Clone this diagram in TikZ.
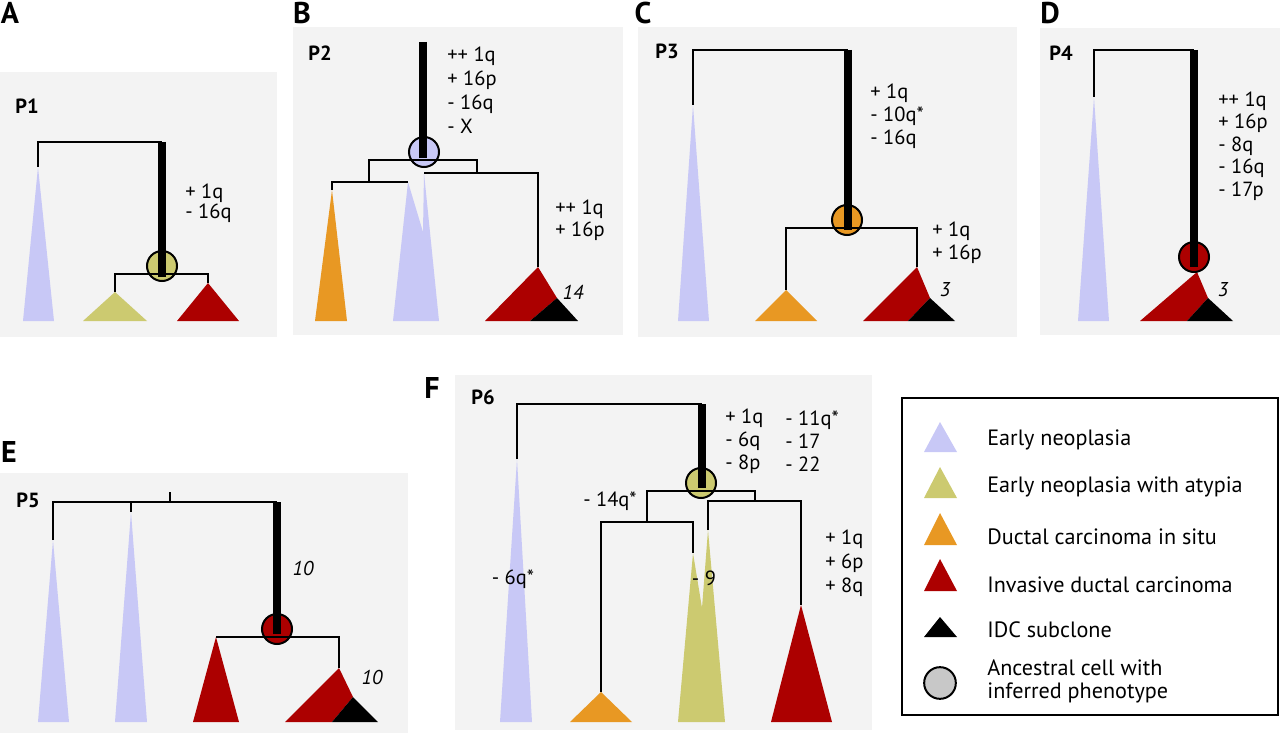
\documentclass[tikz,border=0pt]{standalone}
\usepackage{fontspec}
\setmainfont{PT Sans}
\definecolor{earlyneo}{RGB}{200,200,246}
\definecolor{atypia}{RGB}{204,202,112}
\definecolor{dcis}{RGB}{232,152,35}
\definecolor{idc}{RGB}{172,0,0}
\definecolor{panelbg}{RGB}{243,243,243}
\definecolor{ancgray}{RGB}{200,200,200}

\begin{document}
\begin{tikzpicture}[x=0.6pt, y=-0.6pt,
    branch/.style={line width=1.5pt},
    trunk/.style={line width=4.4pt},
    anc/.style={circle, draw, line width=1.2pt, minimum size=18pt, inner sep=0pt},
    cnv/.style={anchor=west, align=left, inner sep=0pt, font=\fontsize{12.3}{13.8}\selectfont},
    count/.style={inner sep=0pt, font=\itshape\fontsize{12}{13}\selectfont},
    ptag/.style={inner sep=0pt, font=\bfseries\fontsize{12.3}{14}\selectfont},
    letter/.style={inner sep=0pt, font=\bfseries\fontsize{18}{20}\selectfont},
    keytext/.style={anchor=base west, inner sep=0pt, font=\fontsize{13.3}{15}\selectfont}]
    \useasboundingbox (0,0) rectangle (1280,737);

    % Panel letters
    \node[letter] (lA) at (10,13) {A};
    \node[letter] (lB) at (302,13) {B};
    \node[letter] (lC) at (643,13) {C};
    \node[letter] (lD) at (1050,13) {D};
    \node[letter] (lE) at (9,452) {E};
    \node[letter] (lF) at (432,388) {F};

    % Panel A: P1
    \begin{scope}
        \fill[panelbg] (0,72) rectangle (277,337);
        \node[ptag] (pA) at (27,106) {P1};
        \coordinate (A-top) at (162,142);
        \coordinate (A-neo) at (38,167);
        \coordinate (A-split) at (162,274);
        \coordinate (A-aty) at (115,292);
        \coordinate (A-idc) at (208,283);
        \fill[earlyneo] (23,321) -- (A-neo) -- (54,321) -- cycle;
        \fill[atypia] (83,321) -- (A-aty) -- (147,321) -- cycle;
        \fill[idc] (177,321) -- (A-idc) -- (239,321) -- cycle;
        \node[anc, fill=atypia] (A-anc) at (162,266) {};
        \draw[branch] (A-neo) |- (A-top);
        \draw[branch] (A-aty) |- (A-split) -| (A-idc);
        \draw[trunk] (A-top) -- (162,277);
        \node[cnv, font=\fontsize{12.3}{11.8}\selectfont] (A-cnv) at (185,203) {+ 1q\\- 16q};
    \end{scope}

    % Panel B: P2
    \begin{scope}
        \fill[panelbg] (293,27) rectangle (623,335);
        \node[ptag] (pB) at (320,53) {P2};
        \coordinate (B-top) at (423,42);
        \coordinate (B-split) at (423,160);
        \coordinate (B-l) at (369,182);
        \coordinate (B-r) at (477,173);
        \coordinate (B-dcis) at (332,190);
        \coordinate (B-neo1) at (408,182);
        \coordinate (B-neo2) at (424,173);
        \coordinate (B-idc) at (538,267);
        \fill[dcis] (315,321) -- (B-dcis) -- (347,321) -- cycle;
        \fill[earlyneo] (393,321) -- (B-neo1) -- (423,232) -- (B-neo2) -- (439,321) -- cycle;
        \fill[idc] (485,321) -- (B-idc) -- (557,298) -- (530,321) -- cycle;
        \fill[black] (530,321) -- (557,298) -- (578,321) -- cycle;
        \node[anc, fill=earlyneo] (B-anc) at (424,152) {};
        \draw[branch] (B-dcis) |- (B-l) -- (B-neo1);
        \draw[branch] (B-l) |- (B-split) -| (B-r);
        \draw[branch] (B-neo2) -- (B-idc |- B-r) -- (B-idc);
        \draw[trunk] (B-top) -- (423,158);
        \node[cnv, font=\fontsize{12.3}{14.4}\selectfont] (B-cnv) at (447,90) {++ 1q\\+ 16p\\- 16q\\- X};
        \node[cnv, font=\fontsize{12.3}{13.2}\selectfont] (B-cnv2) at (555,220) {++ 1q\\+ 16p};
        \node[count] (B-n) at (573,292) {14};
    \end{scope}

    % Panel C: P3
    \begin{scope}
        \fill[panelbg] (638,27) rectangle (1017,337);
        \node[ptag] (pC) at (667,51) {P3};
        \coordinate (C-top) at (848,50);
        \coordinate (C-neo) at (693,105);
        \coordinate (C-split) at (848,228);
        \coordinate (C-dcis) at (786,290);
        \coordinate (C-idc) at (917,267);
        \fill[earlyneo] (678,321) -- (C-neo) -- (709,321) -- cycle;
        \fill[dcis] (755,321) -- (C-dcis) -- (817,321) -- cycle;
        \fill[idc] (863,321) -- (C-idc) -- (930,298) -- (908,321) -- cycle;
        \fill[black] (908,321) -- (930,298) -- (955,321) -- cycle;
        \node[anc, fill=dcis] (C-anc) at (847,220) {};
        \draw[branch] (C-neo) |- (C-top);
        \draw[branch] (C-dcis) |- (C-split) -| (C-idc);
        \draw[trunk] (C-top) -- (848,230);
        \node[cnv] (C-cnv) at (870,116) {+ 1q\\- 10q*\\- 16q};
        \node[cnv] (C-cnv2) at (932,243) {+ 1q\\+ 16p};
        \node[count] (C-n) at (945,290) {3};
    \end{scope}

    % Panel D: P4
    \begin{scope}
        \fill[panelbg] (1040,28) rectangle (1280,335);
        \node[ptag] (pD) at (1061,53) {P4};
        \coordinate (D-top) at (1194,50);
        \coordinate (D-neo) at (1094,97);
        \coordinate (D-idc) at (1197,272);
        \fill[earlyneo] (1078,321) -- (D-neo) -- (1109,321) -- cycle;
        \fill[idc] (1140,321) -- (D-idc) -- (1208,298) -- (1187,321) -- cycle;
        \fill[black] (1187,321) -- (1208,298) -- (1233,321) -- cycle;
        \node[anc, fill=idc] (D-anc) at (1194,257) {};
        \draw[branch] (D-neo) |- (D-top);
        \draw[trunk] (D-top) -- (1194,267);
        \node[cnv, font=\fontsize{12.3}{13.5}\selectfont] (D-cnv) at (1218,146) {++ 1q\\+ 16p\\- 8q\\- 16q\\- 17p};
        \node[count] (D-n) at (1223,290) {3};
    \end{scope}

    % Panel E: P5
    \begin{scope}
        \fill[panelbg] (0,473) rectangle (408,733);
        \node[ptag] (pE) at (28,500) {P5};
        \coordinate (E-top) at (277,502);
        \coordinate (E-tick) at (170,492);
        \coordinate (E-neo1) at (53,540);
        \coordinate (E-neo2) at (131,512);
        \coordinate (E-split) at (277,637);
        \coordinate (E-idc1) at (216,637);
        \coordinate (E-idc2) at (339,668);
        \fill[earlyneo] (38,722) -- (E-neo1) -- (69,722) -- cycle;
        \fill[earlyneo] (115,722) -- (E-neo2) -- (147,722) -- cycle;
        \fill[idc] (193,722) -- (E-idc1) -- (239,722) -- cycle;
        \fill[idc] (285,722) -- (E-idc2) -- (353,697) -- (332,722) -- cycle;
        \fill[black] (332,722) -- (353,697) -- (378,722) -- cycle;
        \node[anc, fill=idc] (E-anc) at (277,629) {};
        \draw[branch] (E-neo1) |- (E-top);
        \draw[branch] (E-neo2) -- (E-neo2 |- E-top);
        \draw[branch] (E-tick) -- (E-tick |- E-top);
        \draw[branch] (E-idc1) -- (E-split) -| (E-idc2);
        \draw[trunk] (E-top) -- (277,634);
        \node[count] (E-n1) at (303,568) {10};
        \node[count] (E-n2) at (372,677) {10};
    \end{scope}

    % Panel F: P6
    \begin{scope}
        \fill[panelbg] (455,375) rectangle (872,730);
        \node[ptag] (pF) at (483,397) {P6};
        \coordinate (F-top) at (702,404);
        \coordinate (F-neo) at (517,459);
        \coordinate (F-split) at (702,491);
        \coordinate (F-l) at (647,522);
        \coordinate (F-r) at (755,501);
        \coordinate (F-dcis) at (601,692);
        \coordinate (F-aty1) at (693,553);
        \coordinate (F-aty2) at (708,530);
        \coordinate (F-idc) at (801,605);
        \fill[earlyneo] (500,722) -- (F-neo) -- (532,722) -- cycle;
        \fill[dcis] (570,722) -- (F-dcis) -- (632,722) -- cycle;
        \fill[atypia] (678,722) -- (F-aty1) -- (702,608) -- (F-aty2) -- (725,722) -- cycle;
        \fill[idc] (771,722) -- (F-idc) -- (832,722) -- cycle;
        \node[anc, fill=atypia] (F-anc) at (701,483) {};
        \draw[branch] (F-neo) |- (F-top);
        \draw[branch] (F-l) |- (F-split) -| (F-r);
        \draw[branch] (F-dcis) |- (F-l) -| (F-aty1);
        \draw[branch] (F-aty2) |- (F-r) -| (F-idc);
        \draw[trunk] (F-top) -- (702,488);
        \node[cnv] (F-cnv1) at (725,441) {+ 1q\\- 6q\\- 8p};
        \node[cnv] (F-cnv2) at (785,441) {- 11q*\\- 17\\- 22};
        \node[cnv, font=\fontsize{12.3}{14.4}\selectfont] (F-cnv3) at (825,563) {+ 1q\\+ 6p\\+ 8q};
        \node[cnv, anchor=east] (F-cnv4) at (637,501) {- 14q*};
        \node[cnv, anchor=center] (F-cnv5) at (513,579) {- 6q*};
        \node[cnv, anchor=center] (F-cnv6) at (704,578) {- 9};
    \end{scope}

    % Legend
    \draw[line width=1.2pt] (902,398) rectangle (1278,715);
    \foreach \ya/\yb/\col/\yt/\txt [count=\i] in {
        422/452/earlyneo/445/{Early neoplasia},
        467/498/atypia/492/{Early neoplasia with atypia},
        513/545/dcis/544/{Ductal carcinoma in situ},
        559/591/idc/592/{Invasive ductal carcinoma},
        617/637/black/637/{IDC subclone}} {
        \fill[\col] (924,\yb) -- (940,\ya) -- (957,\yb) -- cycle;
        \node[keytext] (key\i) at (987,\yt) {\txt};
    }
    \node[anc, fill=ancgray, minimum size=19pt] (key-anc) at (940,683) {};
    \node[keytext] (key6a) at (987,675) {Ancestral cell with};
    \node[keytext] (key6b) at (987,698) {inferred phenotype};
\end{tikzpicture}
\end{document}
